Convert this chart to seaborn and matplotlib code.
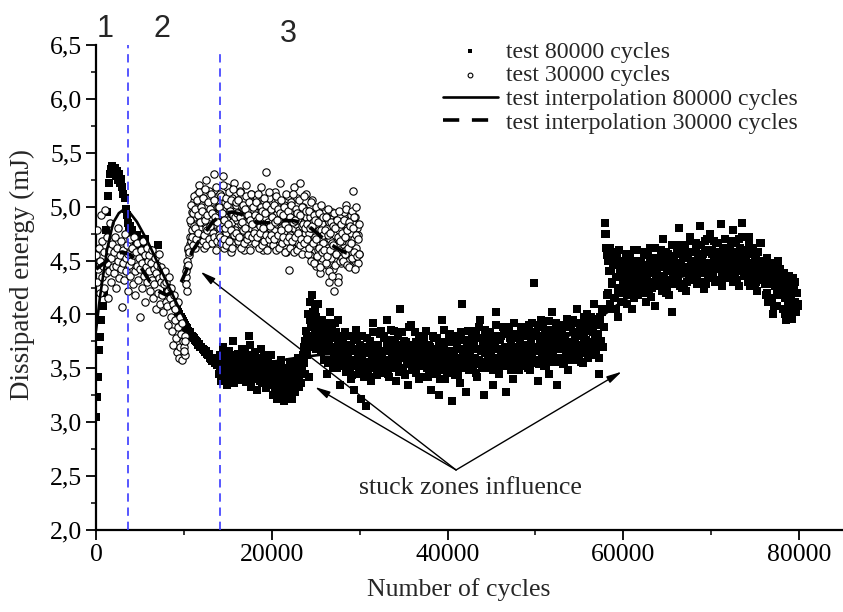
import numpy as np
import pandas as pd
import matplotlib
matplotlib.use("Agg")
import matplotlib.pyplot as plt
from matplotlib.ticker import MultipleLocator, FixedLocator
import seaborn as sns

# ---------------- data ----------------
# test 80000 cycles: readings every 125 cycles
energy_80k_phase1 = [  # 0 - 13875 cycles
    3.05, 3.23, 3.42, 3.67, 3.79, 3.95, 4.08, 4.20, 4.45, 4.78, 4.95, 5.10, 5.22, 5.30, 5.35, 5.38,
    5.32, 5.36, 5.28, 5.33, 5.25, 5.30, 5.22, 5.26, 5.18, 5.12, 5.08, 4.98, 4.92, 4.85, 4.80, 4.82,
    4.75, 4.78, 4.70, 4.72, 4.66, 4.74, 4.62, 4.68, 4.60, 4.64, 4.58, 4.62, 4.55, 4.70, 4.52, 4.50,
    4.60, 4.52, 4.55, 4.48, 4.50, 4.44, 4.47, 4.40, 4.64, 4.42, 4.38, 4.40, 4.35, 4.36, 4.32, 4.30,
    4.28, 4.25, 4.22, 4.24, 4.18, 4.15, 4.16, 4.10, 4.08, 4.06, 4.07, 4.02, 4.00, 3.98, 3.96, 3.94,
    3.92, 3.90, 3.88, 3.87, 3.85, 3.83, 3.84, 3.80, 3.79, 3.78, 3.76, 3.75, 3.74, 3.72, 3.73, 3.70,
    3.70, 3.68, 3.67, 3.65, 3.66, 3.63, 3.62, 3.63, 3.60, 3.59, 3.57, 3.60, 3.55, 3.56, 3.53, 3.55,
]
energy_80k_phase2 = [  # 14000 - 57875 cycles
    3.45, 3.62, 3.38, 3.55, 3.70, 3.42, 3.58, 3.35, 3.50, 3.66, 3.40, 3.60, 3.47, 3.75, 3.36, 3.53,
    3.44, 3.63, 3.39, 3.57, 3.48, 3.68, 3.41, 3.52, 3.50, 3.37, 3.62, 3.80, 3.72, 3.33, 3.56, 3.48,
    3.40, 3.65, 3.52, 3.30, 3.58, 3.44, 3.68, 3.36, 3.54, 3.47, 3.61, 3.32, 3.49, 3.57, 3.42, 3.62,
    3.38, 3.25, 3.46, 3.30, 3.52, 3.22, 3.41, 3.34, 3.58, 3.27, 3.45, 3.20, 3.36, 3.50, 3.24, 3.40,
    3.31, 3.56, 3.22, 3.44, 3.35, 3.28, 3.48, 3.40, 3.60, 3.33, 3.52, 3.45, 3.58, 3.70, 3.45, 3.85,
    3.62, 4.00, 3.42, 4.12, 3.90, 4.18, 3.80, 4.05, 3.68, 3.95, 4.10, 3.72, 3.85, 3.65, 3.95, 3.72,
    3.58, 3.88, 3.45, 3.78, 3.66, 4.02, 3.70, 3.55, 3.82, 3.62, 3.92, 3.50, 3.74, 3.68, 3.35, 3.80,
    3.60, 3.76, 3.52, 3.70, 3.62, 3.48, 3.72, 3.55, 3.40, 3.68, 3.58, 3.30, 3.66, 3.52, 3.78, 3.45,
    3.60, 3.22, 3.57, 3.70, 3.42, 3.64, 3.15, 3.55, 3.48, 3.75, 3.38, 3.62, 3.92, 3.50, 3.67, 3.58,
    3.44, 3.72, 3.60, 3.85, 3.62, 3.55, 3.78, 3.48, 3.66, 3.95, 3.58, 3.42, 3.70, 3.60, 3.52, 3.85,
    3.64, 3.38, 3.72, 3.57, 3.68, 4.05, 3.50, 3.63, 3.75, 3.45, 3.60, 3.70, 3.35, 3.58, 3.66, 3.90,
    3.54, 3.62, 3.48, 3.74, 3.59, 3.67, 3.40, 3.80, 3.56, 3.64, 3.52, 3.70, 3.58, 3.66, 3.42, 3.72,
    3.55, 3.30, 3.62, 3.50, 3.78, 3.60, 3.46, 3.68, 3.25, 3.57, 3.64, 3.95, 3.52, 3.70, 3.40, 3.60,
    3.55, 3.82, 3.48, 3.66, 3.20, 3.58, 3.62, 3.44, 3.74, 3.54, 3.68, 3.36, 3.60, 4.10, 3.50, 3.64,
    3.57, 3.28, 3.70, 3.62, 3.65, 3.55, 3.78, 3.48, 3.70, 3.60, 3.85, 3.42, 3.68, 3.58, 3.95, 3.52,
    3.72, 3.25, 3.64, 3.56, 3.80, 3.62, 3.50, 3.74, 3.66, 3.35, 3.60, 3.70, 4.02, 3.58, 3.68, 3.45,
    3.76, 3.62, 3.54, 3.82, 3.66, 3.28, 3.70, 3.60, 3.88, 3.52, 3.72, 3.64, 3.40, 3.68, 3.58, 3.78,
    3.62, 3.48, 3.74, 3.66, 3.70, 3.60, 3.82, 3.55, 3.72, 3.64, 3.90, 3.48, 3.76, 3.62, 3.68, 4.29,
    3.58, 3.80, 3.38, 3.70, 3.66, 3.95, 3.60, 3.74, 3.52, 3.84, 3.68, 3.62, 3.45, 3.78, 3.70, 4.02,
    3.64, 3.56, 3.82, 3.72, 3.35, 3.68, 3.76, 3.60, 3.88, 3.70, 3.55, 3.80, 3.66, 3.74, 3.48, 3.92,
    3.70, 3.62, 3.84, 3.58, 3.76, 3.68, 4.05, 3.72, 3.80, 3.64, 3.90, 3.55, 3.78, 3.86, 3.70, 4.00,
    3.74, 3.95, 3.62, 3.85, 3.70, 4.10, 3.78, 3.66, 3.92, 3.82, 3.45, 3.98, 3.75, 4.05, 3.88, 4.85,
]
energy_80k_phase3 = [  # 58000 - 79875 cycles
    4.75, 4.55, 4.20, 4.40, 4.62, 4.05, 4.30, 4.48, 4.15, 4.35, 4.58, 3.98, 4.25, 4.42, 4.12, 4.50,
    4.32, 4.20, 4.45, 4.10, 4.38, 4.52, 4.25, 4.40, 4.05, 4.35, 4.60, 4.28, 4.44, 4.18, 4.36, 4.48,
    4.30, 4.42, 4.22, 4.55, 4.35, 4.12, 4.46, 4.28, 4.62, 4.38, 4.25, 4.50, 4.40, 4.08, 4.33, 4.45,
    4.36, 4.52, 4.26, 4.44, 4.70, 4.32, 4.48, 4.20, 4.40, 4.56, 4.30, 4.46, 4.02, 4.38, 4.50, 4.28,
    4.42, 4.58, 4.35, 4.80, 4.46, 4.25, 4.52, 4.38, 4.64, 4.44, 4.30, 4.55, 4.40, 4.72, 4.48, 4.36,
    4.50, 4.42, 4.62, 4.32, 4.55, 4.46, 4.82, 4.38, 4.52, 4.44, 4.68, 4.28, 4.48, 4.58, 4.40, 4.75,
    4.45, 4.56, 4.36, 4.50, 4.66, 4.42, 4.30, 4.54, 4.47, 4.84, 4.38, 4.52, 4.60, 4.44, 4.34, 4.56,
    4.48, 4.62, 4.40, 4.55, 4.78, 4.46, 4.35, 4.58, 4.50, 4.70, 4.42, 4.52, 4.85, 4.46, 4.38, 4.60,
    4.50, 4.42, 4.72, 4.48, 4.56, 4.36, 4.62, 4.44, 4.53, 4.30, 4.58, 4.46, 4.40, 4.66, 4.34, 4.50,
    4.42, 4.28, 4.48, 4.20, 4.38, 4.12, 4.45, 4.32, 4.00, 4.40, 4.26, 4.35, 4.08, 4.30, 4.18, 4.42,
    4.25, 4.05, 4.32, 4.15, 3.95, 4.22, 4.10, 4.28, 3.98, 4.18, 4.05, 4.25, 4.12, 4.02, 4.20, 4.10,
]
cycles_80k = list(range(0, 80000, 125))

# test 80000 cycles: intermediate readings (offset 60 cycles) in the dense band
energy_80k_mid2 = [  # 14060 - 57935 cycles
    3.52, 3.48, 3.60, 3.44, 3.56, 3.50, 3.64, 3.46, 3.55, 3.40, 3.58, 3.52, 3.62, 3.45, 3.50, 3.57,
    3.55, 3.46, 3.60, 3.52, 3.42, 3.58, 3.50, 3.64, 3.45, 3.55, 3.48, 3.60, 3.53, 3.44, 3.58, 3.50,
    3.48, 3.56, 3.42, 3.60, 3.50, 3.38, 3.55, 3.46, 3.62, 3.40, 3.52, 3.58, 3.44, 3.50, 3.36, 3.54,
    3.42, 3.35, 3.48, 3.28, 3.40, 3.32, 3.50, 3.26, 3.44, 3.36, 3.30, 3.46, 3.38, 3.28, 3.42, 3.34,
    3.36, 3.44, 3.30, 3.50, 3.38, 3.42, 3.34, 3.55, 3.40, 3.48, 3.36, 3.52, 3.62, 3.55, 3.75, 3.66,
    3.80, 3.70, 3.95, 3.88, 3.75, 4.02, 3.92, 3.85, 3.98, 3.78, 3.90, 3.82, 3.70, 3.78, 3.86, 3.68,
    3.82, 3.58, 3.92, 3.55, 3.74, 3.66, 3.88, 3.52, 3.78, 3.50, 3.84, 3.62, 3.95, 3.60, 3.72, 3.56,
    3.74, 3.52, 3.84, 3.47, 3.66, 3.60, 3.80, 3.50, 3.70, 3.44, 3.76, 3.57, 3.86, 3.52, 3.64, 3.48,
    3.72, 3.50, 3.80, 3.46, 3.64, 3.56, 3.78, 3.48, 3.68, 3.42, 3.72, 3.55, 3.84, 3.50, 3.62, 3.46,
    3.70, 3.48, 3.82, 3.50, 3.66, 3.58, 3.80, 3.46, 3.72, 3.45, 3.76, 3.56, 3.86, 3.52, 3.64, 3.50,
    3.76, 3.52, 3.80, 3.47, 3.68, 3.60, 3.84, 3.50, 3.70, 3.44, 3.74, 3.58, 3.88, 3.54, 3.62, 3.48,
    3.72, 3.50, 3.84, 3.46, 3.66, 3.56, 3.80, 3.52, 3.74, 3.42, 3.78, 3.57, 3.85, 3.50, 3.64, 3.48,
    3.70, 3.48, 3.80, 3.45, 3.64, 3.58, 3.78, 3.50, 3.72, 3.40, 3.74, 3.55, 3.86, 3.48, 3.62, 3.46,
    3.74, 3.50, 3.82, 3.46, 3.66, 3.58, 3.80, 3.48, 3.72, 3.44, 3.76, 3.56, 3.84, 3.52, 3.64, 3.50,
    3.76, 3.52, 3.85, 3.48, 3.68, 3.60, 3.82, 3.50, 3.74, 3.46, 3.78, 3.58, 3.88, 3.54, 3.66, 3.50,
    3.78, 3.54, 3.86, 3.50, 3.70, 3.62, 3.84, 3.52, 3.76, 3.48, 3.80, 3.60, 3.90, 3.56, 3.68, 3.52,
    3.80, 3.55, 3.88, 3.52, 3.70, 3.64, 3.86, 3.54, 3.78, 3.48, 3.82, 3.60, 3.92, 3.56, 3.70, 3.54,
    3.82, 3.56, 3.88, 3.52, 3.72, 3.64, 3.86, 3.55, 3.80, 3.50, 3.84, 3.62, 3.92, 3.58, 3.70, 3.55,
    3.84, 3.58, 3.90, 3.54, 3.74, 3.66, 3.88, 3.56, 3.82, 3.52, 3.86, 3.64, 3.94, 3.60, 3.72, 3.56,
    3.86, 3.60, 3.92, 3.56, 3.76, 3.68, 3.90, 3.58, 3.84, 3.54, 3.88, 3.66, 3.96, 3.62, 3.74, 3.58,
    3.88, 3.62, 3.95, 3.58, 3.78, 3.70, 3.92, 3.60, 3.86, 3.56, 3.90, 3.68, 3.98, 3.64, 3.76, 3.60,
    3.92, 3.66, 3.98, 3.62, 3.84, 3.74, 3.96, 3.64, 3.90, 3.60, 3.94, 3.72, 4.02, 3.70, 4.05, 4.75,
]
energy_80k_mid3 = [  # 58060 - 79935 cycles
    4.62, 4.18, 4.50, 4.10, 4.40, 4.28, 4.55, 4.15, 4.46, 4.05, 4.52, 4.22, 4.60, 4.20, 4.38, 4.25,
    4.48, 4.22, 4.56, 4.18, 4.40, 4.32, 4.54, 4.20, 4.46, 4.15, 4.50, 4.28, 4.60, 4.24, 4.38, 4.26,
    4.50, 4.26, 4.58, 4.20, 4.42, 4.34, 4.56, 4.22, 4.48, 4.16, 4.52, 4.30, 4.62, 4.26, 4.40, 4.28,
    4.52, 4.28, 4.60, 4.22, 4.44, 4.36, 4.58, 4.24, 4.50, 4.18, 4.54, 4.32, 4.64, 4.28, 4.42, 4.30,
    4.56, 4.30, 4.64, 4.26, 4.48, 4.40, 4.62, 4.28, 4.54, 4.22, 4.58, 4.36, 4.68, 4.32, 4.46, 4.34,
    4.58, 4.32, 4.66, 4.28, 4.50, 4.42, 4.64, 4.30, 4.56, 4.24, 4.60, 4.38, 4.70, 4.34, 4.48, 4.36,
    4.60, 4.34, 4.68, 4.30, 4.52, 4.44, 4.66, 4.32, 4.58, 4.26, 4.62, 4.40, 4.70, 4.36, 4.50, 4.38,
    4.60, 4.34, 4.68, 4.30, 4.52, 4.44, 4.66, 4.32, 4.58, 4.26, 4.62, 4.40, 4.72, 4.36, 4.50, 4.38,
    4.56, 4.30, 4.64, 4.26, 4.48, 4.40, 4.62, 4.28, 4.54, 4.22, 4.58, 4.36, 4.66, 4.32, 4.46, 4.34,
    4.44, 4.18, 4.52, 4.12, 4.36, 4.28, 4.48, 4.15, 4.40, 4.08, 4.46, 4.22, 4.50, 4.18, 4.32, 4.20,
    4.32, 4.05, 4.38, 4.00, 4.24, 4.14, 4.36, 4.02, 4.28, 3.96, 4.34, 4.10, 4.30, 4.06, 4.20, 4.08,
]
cycles_80k_mid = list(range(14060, 80000, 125))

# test 30000 cycles: readings every 80 cycles
energy_30k_early = [  # 0 - 9920 cycles
    4.55, 4.30, 4.78, 4.42, 4.62, 4.20, 4.50, 4.92, 4.35, 4.68, 4.45, 4.25, 4.58, 4.97, 4.38, 4.72, 4.48, 4.15, 4.60, 4.40, 4.85, 4.52, 4.30, 4.65, 4.44,
    4.58, 4.38, 4.72, 4.45, 4.25, 4.62, 4.50, 4.80, 4.34, 4.55, 4.42, 4.68, 4.07, 4.48, 4.60, 4.32, 4.75, 4.52, 4.40, 4.64, 4.22, 4.56, 4.46, 4.70, 4.36,
    4.50, 4.62, 4.28, 4.55, 4.72, 4.40, 4.18, 4.58, 4.45, 4.66, 4.32, 4.52, 3.98, 4.42, 4.60, 4.25, 4.48, 4.68, 4.36, 4.55, 4.12, 4.44, 4.62, 4.30, 4.50,
    4.40, 4.55, 4.22, 4.48, 4.32, 4.60, 4.15, 4.42, 4.28, 4.52, 4.05, 4.38, 4.46, 4.20, 4.34, 4.56, 4.10, 4.30, 4.44, 4.18, 4.36, 4.02, 4.28, 4.40, 4.12,
    4.30, 4.08, 4.22, 3.90, 4.35, 4.15, 3.98, 4.25, 3.85, 4.10, 3.72, 4.18, 3.95, 4.05, 3.78, 3.65, 4.12, 3.88, 3.60, 3.98, 3.70, 3.82, 3.58, 3.92, 3.75,
]
energy_30k_late = [  # 10000 - 29920 cycles
    3.70, 3.62, 3.80, 4.35, 4.22, 4.44, 4.60, 4.55, 4.72, 4.65, 4.85, 4.78, 4.95, 4.70, 5.05, 4.82, 4.62, 4.90, 5.12, 4.75, 4.98, 4.68, 5.20, 4.88, 4.80,
    4.92, 4.75, 5.08, 4.85, 4.62, 5.00, 4.80, 5.25, 4.70, 4.95, 4.88, 5.15, 4.66, 4.90, 4.78, 5.02, 4.72, 4.98, 5.30, 4.84, 4.60, 4.94, 4.76, 5.10, 4.86,
    4.98, 4.80, 5.12, 4.70, 4.92, 5.28, 4.85, 4.62, 5.04, 4.90, 4.76, 5.18, 4.88, 4.68, 5.00, 4.82, 4.95, 4.58, 5.08, 4.86, 4.74, 5.22, 4.92, 4.78, 5.02,
    4.88, 4.70, 5.06, 4.94, 4.65, 5.15, 4.84, 4.76, 5.00, 4.90, 4.60, 4.98, 4.82, 5.20, 4.72, 4.92, 4.86, 5.08, 4.68, 4.95, 4.80, 5.12, 4.74, 4.90, 4.84,
    4.96, 4.78, 5.10, 4.70, 4.88, 5.02, 4.64, 4.92, 4.82, 5.18, 4.74, 4.98, 4.86, 4.60, 5.05, 4.90, 4.76, 5.32, 4.84, 4.70, 4.95, 5.08, 4.80, 4.66, 4.92,
    4.85, 5.00, 4.72, 4.90, 5.14, 4.78, 4.62, 4.94, 4.84, 5.06, 4.70, 4.88, 5.22, 4.80, 4.96, 4.66, 4.92, 4.76, 5.02, 4.86, 4.58, 4.98, 4.82, 5.10, 4.41,
    4.90, 4.74, 5.04, 4.86, 4.62, 4.96, 4.80, 5.18, 4.70, 4.92, 4.84, 5.08, 4.66, 4.88, 4.78, 5.22, 4.72, 4.94, 4.82, 5.00, 4.60, 4.86, 4.76, 5.12, 4.90,
    4.84, 4.68, 4.96, 4.76, 4.55, 4.90, 4.80, 5.06, 4.64, 4.86, 4.50, 4.92, 4.72, 4.45, 4.82, 4.98, 4.60, 4.78, 4.38, 4.88, 4.70, 4.52, 4.84, 4.66, 4.94,
    4.75, 4.58, 4.90, 4.46, 4.80, 4.62, 4.30, 4.86, 4.70, 4.52, 4.95, 4.66, 4.42, 4.82, 4.22, 4.74, 4.56, 4.88, 4.64, 4.35, 4.78, 4.60, 4.92, 4.48, 4.72,
    4.68, 4.85, 4.55, 4.95, 4.72, 4.60, 5.02, 4.80, 4.50, 4.88, 4.66, 4.45, 4.92, 4.76, 4.58, 4.84, 5.15, 4.70, 4.52, 4.90, 4.62, 4.80, 4.48, 4.74, 4.56,
]
cycles_30k = list(range(0, 30000, 80))

# test 30000 cycles: intermediate readings (offset 40 cycles) in the upper cloud
energy_30k_mid = [  # 10040 - 29960 cycles
    3.66, 3.75, 4.28, 4.40, 4.50, 4.46, 4.62, 4.58, 4.88, 4.68, 5.02, 4.72, 4.94, 4.64, 5.10, 4.80, 4.98, 4.70, 5.06, 4.76, 4.92, 5.14, 4.66, 4.86, 5.00,
    4.96, 4.68, 5.08, 4.74, 4.88, 5.16, 4.64, 4.92, 4.78, 5.04, 4.70, 4.98, 4.82, 5.12, 4.66, 4.94, 4.76, 5.06, 4.72, 4.90, 5.18, 4.68, 4.86, 5.00, 4.74,
    5.00, 4.72, 5.10, 4.66, 4.94, 5.20, 4.70, 4.88, 4.80, 5.08, 4.64, 5.02, 4.84, 5.14, 4.68, 4.96, 4.78, 5.06, 4.62, 4.92, 5.16, 4.74, 4.90, 5.04, 4.76,
    4.94, 4.68, 5.06, 4.72, 4.90, 5.14, 4.62, 4.86, 4.78, 5.02, 4.66, 4.98, 4.80, 5.10, 4.70, 4.92, 4.74, 5.04, 4.60, 4.88, 5.12, 4.72, 4.84, 5.00, 4.76,
    4.92, 4.66, 5.04, 4.72, 4.88, 5.12, 4.62, 4.90, 4.76, 5.00, 4.64, 4.96, 4.80, 5.08, 4.68, 4.94, 4.74, 5.02, 4.60, 4.86, 5.14, 4.70, 4.82, 4.98, 4.74,
    4.90, 4.64, 5.02, 4.70, 4.86, 5.10, 4.60, 4.88, 4.74, 4.98, 4.62, 4.94, 4.78, 5.06, 4.66, 4.92, 4.72, 5.00, 4.58, 4.84, 5.12, 4.68, 4.80, 4.96, 4.72,
    4.90, 4.62, 5.02, 4.68, 4.86, 5.12, 4.58, 4.88, 4.72, 4.98, 4.60, 4.94, 4.76, 5.06, 4.64, 4.92, 4.70, 5.00, 4.56, 4.84, 5.10, 4.66, 4.80, 4.96, 4.70,
    4.84, 4.56, 4.96, 4.62, 4.80, 5.04, 4.50, 4.82, 4.66, 4.92, 4.48, 4.88, 4.70, 5.00, 4.54, 4.86, 4.62, 4.94, 4.44, 4.78, 5.02, 4.58, 4.74, 4.90, 4.60,
    4.78, 4.48, 4.90, 4.54, 4.74, 4.98, 4.40, 4.76, 4.60, 4.86, 4.36, 4.82, 4.64, 4.94, 4.46, 4.80, 4.56, 4.88, 4.30, 4.72, 4.96, 4.50, 4.68, 4.84, 4.52,
    4.76, 4.50, 4.88, 4.56, 4.72, 4.98, 4.46, 4.78, 4.62, 4.86, 4.44, 4.82, 4.66, 4.96, 4.52, 4.80, 4.58, 4.90, 4.42, 4.74, 5.00, 4.54, 4.70, 4.84, 4.56,
]
cycles_30k_mid = list(range(10040, 30000, 80))

# interpolation curves
interp80_cycles = [0, 450, 1250, 1950, 2600, 3100, 3600, 4650, 5800, 6900, 8100, 9200, 10700,
                   12200, 13750, 15500, 17500, 20000, 23000, 26000, 30000, 35000, 40000, 45000,
                   50000, 53000, 55000, 57000, 59000, 61000, 63000, 66000, 69000, 72000, 75000,
                   78000, 80000]
interp80_energy = [3.85, 4.16, 4.60, 4.85, 4.94, 4.97, 4.97, 4.86, 4.69, 4.50, 4.29, 4.10, 3.86,
                   3.67, 3.55, 3.51, 3.52, 3.56, 3.60, 3.63, 3.64, 3.64, 3.65, 3.67,
                   3.72, 3.78, 3.84, 3.95, 4.07, 4.18, 4.26, 4.34, 4.39, 4.40, 4.37,
                   4.28, 4.20]
interp30_cycles = [0, 1000, 2000, 3000, 4000, 5000, 6000, 7000, 8000, 9000, 9700, 10300, 10900,
                   11800, 13300, 14500, 15500, 16500, 17500, 18500, 19500, 20500, 21500, 22500,
                   23500, 24500, 25500, 26500, 27500, 28500, 29000]
interp30_energy = [4.42, 4.48, 4.55, 4.58, 4.55, 4.45, 4.32, 4.22, 4.18, 4.22, 4.30, 4.41, 4.58,
                   4.69, 4.86, 4.94, 4.95, 4.93, 4.88, 4.85, 4.85, 4.86, 4.87, 4.87,
                   4.85, 4.80, 4.73, 4.66, 4.61, 4.57, 4.56]

phase_bounds = [3600, 14150]
phase_labels = ["1", "2", "3"]
y_ticks = [2.0, 2.5, 3.0, 3.5, 4.0, 4.5, 5.0, 5.5, 6.0, 6.5]
y_tick_labels = ["2,0", "2,5", "3,0", "3,5", "4,0", "4,5", "5,0", "5,5", "6,0", "6,5"]
x_ticks = [0, 20000, 40000, 60000, 80000]
note_text = "stuck zones influence"
note_origin = (40970, 2.557)
note_targets = [(11900, 4.397), (24920, 3.327), (59820, 3.469)]

# ---------------- figure ----------------
sns.set_style("ticks")
plt.rcParams["font.family"] = ["Liberation Serif", "DejaVu Serif"]

df80 = pd.DataFrame({
    "cycles": cycles_80k + cycles_80k_mid,
    "energy": energy_80k_phase1 + energy_80k_phase2 + energy_80k_phase3
              + energy_80k_mid2 + energy_80k_mid3})
df30 = pd.DataFrame({
    "cycles": cycles_30k + cycles_30k_mid,
    "energy": energy_30k_early + energy_30k_late + energy_30k_mid})

fig = plt.figure(figsize=(8.43, 6.12), dpi=100)
ax = fig.add_axes([96 / 843, 1 - 530 / 612, 747 / 843, 485 / 612])

sns.scatterplot(data=df80, x="cycles", y="energy", ax=ax, marker="s", s=30,
                color="black", edgecolor="black", linewidth=0, zorder=2,
                label="test 80000 cycles")
sns.scatterplot(data=df30, x="cycles", y="energy", ax=ax, marker="o", s=28,
                color="white", edgecolor="black", linewidth=0.8, zorder=3,
                label="test 30000 cycles")
sns.lineplot(x=interp80_cycles, y=interp80_energy, ax=ax, color="black", lw=1.9,
             sort=False, estimator=None, zorder=4, label="test interpolation 80000 cycles")
sns.lineplot(x=interp30_cycles, y=interp30_energy, ax=ax, color="black", lw=2.6,
             sort=False, estimator=None, zorder=4, label="test interpolation 30000 cycles")
ax.get_lines()[-1].set_linestyle((0, (4.5, 3.5)))

for xb, top in zip(phase_bounds, [6.5, 6.44]):
    ax.plot([xb, xb], [2.0, top], color="#3a3aff", lw=1.2, ls=(0, (5, 3.5)), zorder=6)

ax.set_xlim(0, 85000)
ax.set_ylim(2.0, 6.5)
ax.xaxis.set_major_locator(FixedLocator(x_ticks))
ax.set_xticklabels([str(t) for t in x_ticks])
ax.xaxis.set_minor_locator(MultipleLocator(10000))
ax.yaxis.set_major_locator(FixedLocator(y_ticks))
ax.set_yticklabels(y_tick_labels)
ax.yaxis.set_minor_locator(MultipleLocator(0.25))
ax.tick_params(which="major", direction="out", length=7, width=1.3, labelsize=18.5,
               colors="black", pad=3)
ax.tick_params(which="minor", direction="out", length=3.5, width=1.3)
for side in ["top", "right"]:
    ax.spines[side].set_visible(False)
for side in ["left", "bottom"]:
    ax.spines[side].set_linewidth(1.6)
    ax.spines[side].set_color("black")

ax.set_xlabel("Number of cycles", fontsize=18.5)
ax.set_ylabel("Dissipated energy (mJ)", fontsize=19.5)
ax.xaxis.set_label_coords((459 - 96) / 747, (530 - 578) / 485)
ax.yaxis.set_label_coords((35 - 96) / 747, (530 - 275) / 485)

handles, labels = ax.get_legend_handles_labels()
leg = ax.legend(handles, labels, loc="upper left", frameon=False, fontsize=17.2,
                bbox_to_anchor=(443 / 843, 1 - 41 / 612), bbox_transform=fig.transFigure,
                borderpad=0, borderaxespad=0, handlelength=2.3, handletextpad=0.35,
                labelspacing=0.08, markerscale=0.65)

for tx in note_targets:
    ax.annotate("", xy=tx, xytext=note_origin,
                arrowprops=dict(arrowstyle="-|>,head_length=0.9,head_width=0.22",
                                color="black", lw=1.0, shrinkA=0, shrinkB=0))
ax.text(42560, 2.39, note_text, ha="center", va="center", fontsize=18.6)

for lbl, (px, py) in zip(phase_labels, [(105, 29), (162, 29), (288, 34)]):
    fig.text(px / 843, 1 - py / 612, lbl, ha="center", va="center", fontsize=22,
             family=["Liberation Sans", "DejaVu Sans"])

fig.savefig("out.png", dpi=100)
